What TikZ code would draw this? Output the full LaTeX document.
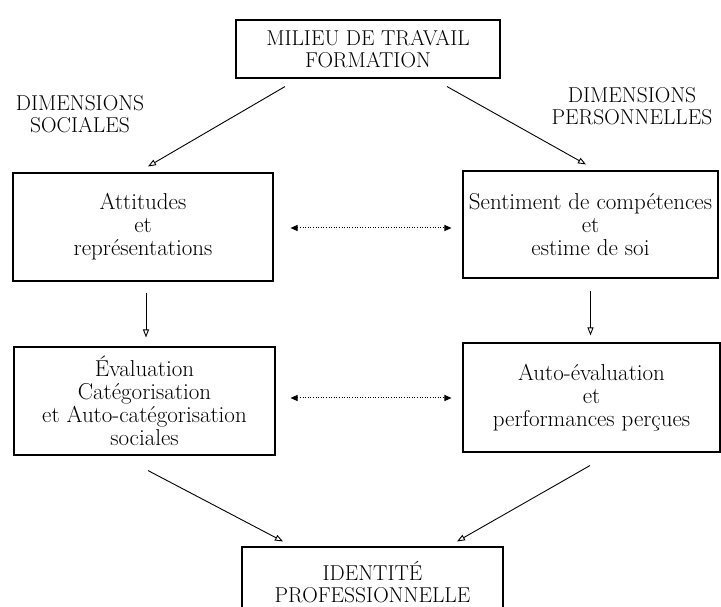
\documentclass[tikz,border=0pt]{standalone}
\usepackage{tikz}
\usetikzlibrary{arrows.meta, positioning}
\tikzset{
    >={Triangle[open, length=8pt, width=6pt]}, % small open heads, as in the scan
    every node/.style={align=center}, % every label may have several lines
    x=1pt, y=1pt, % one unit is one pixel of the page
}

\begin{document}
\begin{tikzpicture}[
                                boxStyle/.style={draw, line width=1.1pt, inner sep=0pt, font=\fontsize{23}{23}\selectfont},
                                capsStyle/.style={font=\fontsize{21.5}{22}\selectfont},
                                linkStyle/.style={->, line width=0.9pt},
                                bothStyle/.style={<->, line width=1pt, dash pattern=on 1pt off 1.6pt, >={Triangle[length=7pt, width=6pt]}},
                            ]
                            \clip (0,0) rectangle (721,606);
                            \fill[white] (0,0) rectangle (721,606);
                            \node[boxStyle, capsStyle, minimum width=264pt, minimum height=58pt] (milieu) at (368,557) {MILIEU DE TRAVAIL\\FORMATION};
                            \node[capsStyle] (dimSoc) at (80,492) {DIMENSIONS\\SOCIALES};
                            \node[capsStyle] (dimPers) at (632,500) {DIMENSIONS\\PERSONNELLES};
                            \node[boxStyle, minimum width=260pt, minimum height=108pt] (attit) at (143,379) {Attitudes\\et\\représentations};
                            \node[boxStyle, minimum width=255pt, minimum height=107pt] (sentim) at (590.5,381.5) {Sentiment de compétences\\et\\estime de soi};
                            \node[boxStyle, minimum width=261pt, minimum height=108pt] (evalu) at (144.5,205) {Évaluation\\Catégorisation\\et Auto-catégorisation\\sociales};
                            \node[boxStyle, minimum width=257pt, minimum height=109pt] (autoEval) at (591.5,208.5) {Auto-évaluation\\et\\performances perçues};
                            \node[boxStyle, capsStyle, minimum width=261pt, minimum height=70pt] (ident) at (372.5,24) {IDENTITÉ\\PROFESSIONNELLE};
                            \draw[linkStyle] ([xshift=-83pt, yshift=-8pt]milieu.south) -- ([xshift=5pt, yshift=6pt]attit.north);
                            \draw[linkStyle] ([xshift=79pt, yshift=-8pt]milieu.south) -- ([xshift=-4.5pt, yshift=6pt]sentim.north);
                            \draw[linkStyle] ([xshift=3pt, yshift=-11pt]attit.south) -- ([xshift=1.5pt, yshift=9pt]evalu.north);
                            \draw[linkStyle] ([yshift=-12pt]sentim.south) -- ([xshift=-1pt, yshift=7pt]autoEval.north);
                            \draw[linkStyle] ([xshift=3.5pt, yshift=-15pt]evalu.south) -- ([xshift=-89.5pt, yshift=5pt]ident.north);
                            \draw[linkStyle] ([xshift=-1.5pt, yshift=-13pt]autoEval.south) -- ([xshift=84.5pt, yshift=5pt]ident.north);
                            \draw[bothStyle] ([xshift=17pt, yshift=-1pt]attit.east) -- ([xshift=-11pt, yshift=-3.5pt]sentim.west);
                            \draw[bothStyle] ([xshift=15pt, yshift=3pt]evalu.east) -- ([xshift=-11pt, yshift=-0.5pt]autoEval.west);
                        \end{tikzpicture}
\end{document}
